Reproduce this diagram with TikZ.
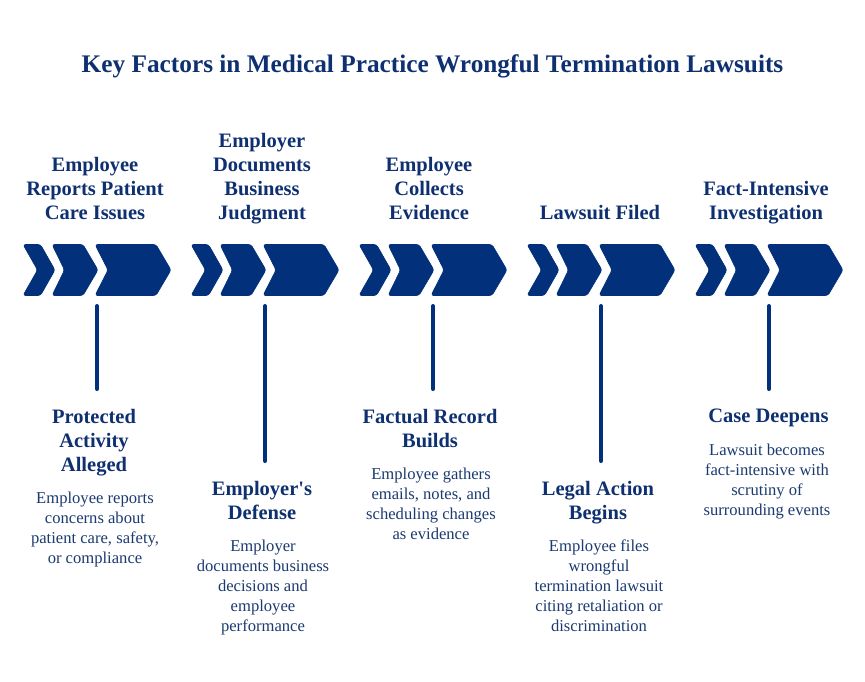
\documentclass[tikz,border=0pt]{standalone}
\usepackage{fontspec}
\setmainfont{Liberation Serif}
\newfontfamily\plainquote{Liberation Serif}
\definecolor{navy}{HTML}{02307A}
\definecolor{headc}{HTML}{0E3070}
\definecolor{bodyc}{HTML}{1B3A70}
\tikzset{
  x=1pt,y=-1pt,
  chev/.style={fill=navy,draw=navy,line width=0.6pt,rounded corners=2.5pt},
  stem/.style={draw=navy,line width=4pt,line cap=round},
  titlet/.style={font=\fontsize{25.3}{30}\selectfont\bfseries,text=headc,inner sep=0pt},
  head/.style={font=\fontsize{20.5}{24}\selectfont\bfseries,text=headc,align=center,inner sep=0pt,anchor=north},
  bodyt/.style={font=\fontsize{16.6}{20}\selectfont,text=bodyc,align=center,inner sep=0pt,anchor=north},
  pics/arrows/.style={code={
    \fill[chev] (0,0.5) -- (17.5,0.5) -- (32,26) -- (17.5,51.5) -- (0,51.5) -- (14.5,26) -- cycle;
    \fill[chev] (29,0.5) -- (60,0.5) -- (75,26) -- (60,51.5) -- (29,51.5) -- (41.5,26) -- cycle;
    \fill[chev] (72,0.5) -- (133,0.5) -- (148,26) -- (133,51.5) -- (72,51.5) -- (85,26) -- cycle;
  }}
}
\begin{document}
\begin{tikzpicture}
\useasboundingbox (0,0) rectangle (865,682);
\node[titlet] (title) at (432.5,66) {Key Factors in Medical Practice Wrongful Termination Lawsuits};

\pic at (23,244) {arrows};
\pic at (191,244) {arrows};
\pic at (359,244) {arrows};
\pic at (527,244) {arrows};
\pic at (695,244) {arrows};

\coordinate (s1) at (97,306);  \coordinate (e1) at (97,389);
\coordinate (s2) at (265,306); \coordinate (e2) at (265,461);
\coordinate (s3) at (433,306); \coordinate (e3) at (433,389);
\coordinate (s4) at (601,306); \coordinate (e4) at (601,461);
\coordinate (s5) at (769,306); \coordinate (e5) at (769,389);
\draw[stem] (s1) -- (e1);
\draw[stem] (s2) -- (e2);
\draw[stem] (s3) -- (e3);
\draw[stem] (s4) -- (e4);
\draw[stem] (s5) -- (e5);

\node[head] (t1) at (95,157) {Employee\\Reports Patient\\Care Issues};
\node[head] (t2) at (262,133) {Employer\\Documents\\Business\\Judgment};
\node[head] (t3) at (429,157) {Employee\\Collects\\Evidence};
\node[head] (t4) at (600,205) {Lawsuit Filed};
\node[head] (t5) at (766,181) {Fact-Intensive\\Investigation};

\node[head] (h1) at (94,409) {Protected\\Activity\\Alleged};
\node[head] (h2) at (262,481) {Employer{\plainquote '}s\\Defense};
\node[head] (h3) at (430,409) {Factual Record\\Builds};
\node[head] (h4) at (598,481) {Legal Action\\Begins};
\node[head] (h5) at (768.5,409) {Case Deepens};

\node[bodyt] (b1) at (95,492) {Employee reports\\concerns about\\patient care, safety,\\or compliance};
\node[bodyt] (b2) at (263,540) {Employer\\documents business\\decisions and\\employee\\performance};
\node[bodyt] (b3) at (431,468) {Employee gathers\\emails, notes, and\\scheduling changes\\as evidence};
\node[bodyt] (b4) at (599,540) {Employee files\\wrongful\\termination lawsuit\\citing retaliation or\\discrimination};
\node[bodyt] (b5) at (767,444) {Lawsuit becomes\\fact-intensive with\\scrutiny of\\surrounding events};
\end{tikzpicture}
\end{document}
